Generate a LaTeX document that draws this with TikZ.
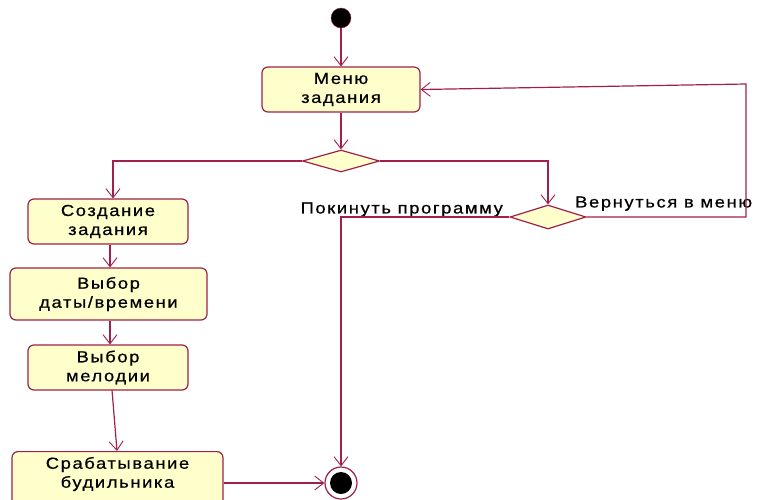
\documentclass[tikz,border=0pt]{standalone}
\usepackage{fontspec}
\setmainfont{Liberation Sans}[FakeStretch=1.15,LetterSpace=10,FakeBold=0.6]
\usetikzlibrary{arrows.meta,shapes.geometric}
\definecolor{ln}{HTML}{A0204A}
\definecolor{fl}{HTML}{FFFFCC}
\tikzset{
  act/.style={draw=ln, fill=fl, rounded corners=6pt, line width=1.2pt, align=center, font=\fontsize{16}{19}\selectfont, inner sep=0pt},
  dec/.style={draw=ln, fill=fl, diamond, line width=1.2pt, inner sep=0pt, aspect=3.4},
  flow/.style={draw=ln, line width=1.2pt, -{Straight Barb[length=9pt,width=14pt,line width=0.9pt]}},
  lbl/.style={font=\fontsize{16}{19}\selectfont, inner sep=0pt}
}
\begin{document}
\begin{tikzpicture}[x=1pt,y=-1pt]
\useasboundingbox (0,0) rectangle (758,499);
\node[circle, fill=black, draw=ln, minimum size=20pt, inner sep=0pt] (start) at (341,18) {};
\node[act, minimum width=158pt, minimum height=45pt] (menu) at (341,89.5) {Меню\\задания};
\node[dec, minimum width=77pt, minimum height=22pt] (d1) at (341,161) {};
\node[dec, minimum width=76pt, minimum height=24pt] (d2) at (548,217) {};
\node[act, minimum width=160pt, minimum height=45pt] (b1) at (108,221.5) {Создание\\задания};
\node[act, minimum width=197pt, minimum height=52pt] (b2) at (108.5,294) {Выбор\\даты/времени};
\node[act, minimum width=160pt, minimum height=45pt] (b3) at (108,367.5) {Выбор\\мелодии};
\node[act, minimum width=211pt, minimum height=60pt, anchor=north] (b4) at (117.5,451) {};
\node[lbl, align=center] (b4t) at (117.5,474) {Срабатывание\\будильника};
\node[circle, draw=ln, fill=white, line width=1.2pt, minimum size=32pt, inner sep=0pt] (fin) at (341,483) {};
\node[circle, fill=black, minimum size=22pt, inner sep=0pt] (finin) at (fin) {};
\coordinate (c1) at (113,161);
\coordinate (c2) at (548,161);
\coordinate (c3) at (746,217);
\coordinate (c4) at (746,84);
\coordinate (c5) at (341,217);
\node[lbl, anchor=south west] (lret) at (575,211) {Вернуться в меню};
\node[lbl, anchor=south east] (lexit) at (503,217) {Покинуть программу};
\draw[flow] (start) -- (menu);
\draw[flow] (menu) -- (d1);
\draw[flow] (d1.west) -- (c1) -- (b1.north -| c1);
\draw[flow] (d1.east) -- (c2) -- (d2.north);
\draw[flow] (d2.east) -- (c3) -- (c4) -- (menu.east);
\draw[flow] (d2.west) -- (c5) -- (fin.north);
\draw[flow] (b1.south -| 110,0) -- (b2.north -| 110,0);
\draw[flow] (b2.south -| 110,0) -- (b3.north -| 110,0);
\draw[flow] (112,390) -- (b4.north -| 117,0);
\draw[flow] (b4.east |- fin) -- (fin.west);
\end{tikzpicture}
\end{document}
